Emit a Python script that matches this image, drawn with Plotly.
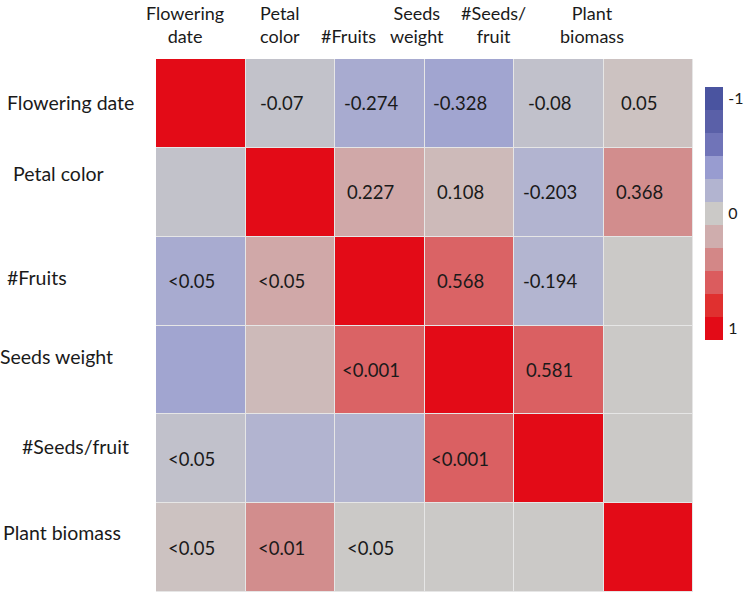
import plotly.graph_objects as go

# ---------------- data ----------------
variables = ["Flowering date", "Petal color", "#Fruits", "Seeds weight", "#Seeds/fruit", "Plant biomass"]
header_labels = ["Flowering<br>date", "Petal<br>color", "#Fruits", "Seeds<br>weight", "#Seeds/<br>fruit", "Plant<br>biomass"]

# correlation coefficients (None = not shown, drawn neutral grey)
r_flowering = [1, -0.07, -0.274, -0.328, -0.08, 0.05]
r_petal = [-0.07, 1, 0.227, 0.108, -0.203, 0.368]
r_fruits = [-0.274, 0.227, 1, 0.568, -0.194, None]
r_seedsw = [-0.328, 0.108, 0.568, 1, 0.581, None]
r_seedsf = [-0.08, -0.203, -0.194, 0.581, 1, None]
r_biomass = [0.05, 0.368, None, None, None, 1]
corr = [r_flowering, r_petal, r_fruits, r_seedsw, r_seedsf, r_biomass]

# p-value labels (lower triangle)
p_flowering = ["", "", "", "", "", ""]
p_petal = ["", "", "", "", "", ""]
p_fruits = ["<0.05", "<0.05", "", "", "", ""]
p_seedsw = ["", "", "<0.001", "", "", ""]
p_seedsf = ["<0.05", "", "", "<0.001", "", ""]
p_biomass = ["<0.05", "<0.01", "<0.05", "", "", ""]
pvals = [p_flowering, p_petal, p_fruits, p_seedsw, p_seedsf, p_biomass]

scale_levels = [-1, -0.8, -0.6, -0.4, -0.2, 0, 0.2, 0.4, 0.6, 0.8, 1]
scale_ticks = [-1, 0, 1]

# ---------------- style ----------------
scale_colors = ["#4a54a0", "#5a60a8", "#7074b8", "#989cd0", "#b2b4d0", "#cbc9c7",
                "#cfadad", "#d38787", "#db5c5e", "#e0302f", "#e30b17"]
colorscale = [[(v + 1) / 2, c] for v, c in zip(scale_levels, scale_colors)]
FONT = "Lato, 'Open Sans', sans-serif"
TXT = "#1a1a1a"
header_xshift = [-16, -10, -31, -52, -65, -56]
row_label_x = [7, 13, 7, 0, 22, 3]
row_label_yshift = [1, 19, 4, 13, 12, 15]

W, H = 745, 599
ML, MR, MT, MB = 156, 10, 59, 7
PW = W - ML - MR
PH = H - MT - MB

z = [[(v if v is not None else 0.0) for v in row] for row in corr]

fig = go.Figure()
fig.add_trace(go.Heatmap(
    x=variables, y=variables, z=z,
    zmin=-1, zmax=1, colorscale=colorscale, showscale=False,
    xgap=1, ygap=1, hoverinfo="skip",
    xaxis="x", yaxis="y",
))

# discrete legend bar
fig.add_trace(go.Heatmap(
    x=[0], y=scale_levels, z=[[v] for v in scale_levels],
    zmin=-1, zmax=1, colorscale=colorscale, showscale=False,
    hoverinfo="skip", xaxis="x2", yaxis="y2",
))

annotations = []
n = len(variables)
for i in range(n):
    for j in range(n):
        if j > i:
            v = corr[i][j]
            txt = "" if v is None else str(v)
        elif j < i:
            txt = pvals[i][j]
        else:
            txt = ""
        if txt:
            annotations.append(dict(
                x=variables[j], y=variables[i], xref="x", yref="y",
                text=txt, showarrow=False, xshift=-9,
                font=dict(family=FONT, size=18.5, color=TXT),
            ))

for i, lab in enumerate(variables):
    annotations.append(dict(
        x=0, xref="paper", xanchor="left", xshift=row_label_x[i] - ML - 2,
        y=lab, yref="y", yshift=row_label_yshift[i],
        text=lab, showarrow=False,
        font=dict(family=FONT, size=19.5, color=TXT),
    ))

for j, lab in enumerate(header_labels):
    annotations.append(dict(
        x=variables[j], xref="x", xshift=header_xshift[j],
        y=1, yref="paper", yanchor="bottom", yshift=10,
        text=lab, showarrow=False, align="center",
        font=dict(family=FONT, size=18, color=TXT),
    ))

main_right = (693 - ML) / PW
cb_left = (705 - ML) / PW
cb_right = (723 - ML) / PW
cb_top = (H - MB - 87) / PH
cb_bot = (H - MB - 340) / PH

fig.update_layout(
    width=W, height=H,
    margin=dict(l=ML, r=MR, t=MT, b=MB, autoexpand=False),
    paper_bgcolor="white", plot_bgcolor="#e6e6e6",
    showlegend=False,
    xaxis=dict(domain=[0, main_right], range=[-0.5, 5.5], showticklabels=False,
               showgrid=False, zeroline=False, ticks="", automargin=False),
    yaxis=dict(domain=[0, 1], range=[5.5, -0.5], showticklabels=False,
               showgrid=False, zeroline=False, ticks="", automargin=False),
    xaxis2=dict(domain=[cb_left, cb_right], range=[-0.5, 0.5], anchor="y2",
                showticklabels=False, showgrid=False, zeroline=False, ticks="",
                automargin=False),
    yaxis2=dict(domain=[cb_bot, cb_top], range=[1.1, -1.1], anchor="x2", side="right",
                tickvals=scale_ticks, ticktext=[str(t) for t in scale_ticks],
                ticks="outside", ticklen=1, tickcolor="rgba(0,0,0,0)",
                showgrid=False, zeroline=False, automargin=False,
                tickfont=dict(family=FONT, size=16, color=TXT)),
    annotations=annotations,
)

fig.write_html("out.html", config={"displayModeBar": False},
               post_script="document.body.style.margin='0';document.body.style.overflow='hidden';")
